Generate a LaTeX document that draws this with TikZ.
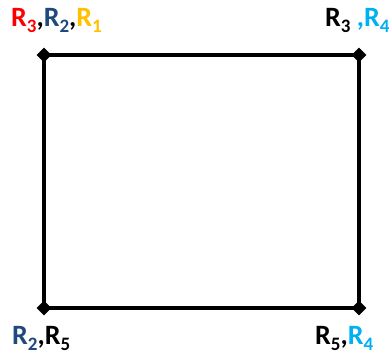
\documentclass[tikz,border=0pt]{standalone}
\usepackage{fontspec}
\setmainfont{Carlito}
\usetikzlibrary{shapes.geometric}
\definecolor{cred}{RGB}{255,0,0}
\definecolor{cdblue}{RGB}{31,73,125}
\definecolor{cgold}{RGB}{255,192,0}
\definecolor{clblue}{RGB}{0,176,240}
\newcommand{\Rs}[1]{R\raisebox{-0.2em}{\fontsize{19}{21}\selectfont #1}}
\begin{document}
\begin{tikzpicture}[x=1pt,y=-1pt,
  corner/.style={diamond,fill=black,inner sep=0pt,minimum width=15pt,minimum height=15pt},
  lab/.style={font=\bfseries\fontsize{28}{32}\selectfont,anchor=base west,inner sep=0pt}]
\useasboundingbox (0,0) rectangle (389,355);
\node[corner] (tl) at (44,55) {};
\node[corner] (tr) at (359,55) {};
\node[corner] (bl) at (44,308) {};
\node[corner] (br) at (359,308) {};
\draw[line width=3.2pt] (tl.center) -- (tr.center) -- (br.center) -- (bl.center) -- cycle;
\node[lab] (ltl) at (11,27) {\textcolor{cred}{\Rs{3}},\textcolor{cdblue}{\Rs{2}},\textcolor{cgold}{\Rs{1}}};
\node[lab] (ltr) at (325,27) {\Rs{3} \textcolor{clblue}{,\Rs{4}}};
\node[lab] (lbl) at (12,345) {\textcolor{cdblue}{\Rs{2}},\Rs{5}};
\node[lab] (lbr) at (315,345) {\Rs{5},\textcolor{clblue}{\Rs{4}}};
\end{tikzpicture}
\end{document}
